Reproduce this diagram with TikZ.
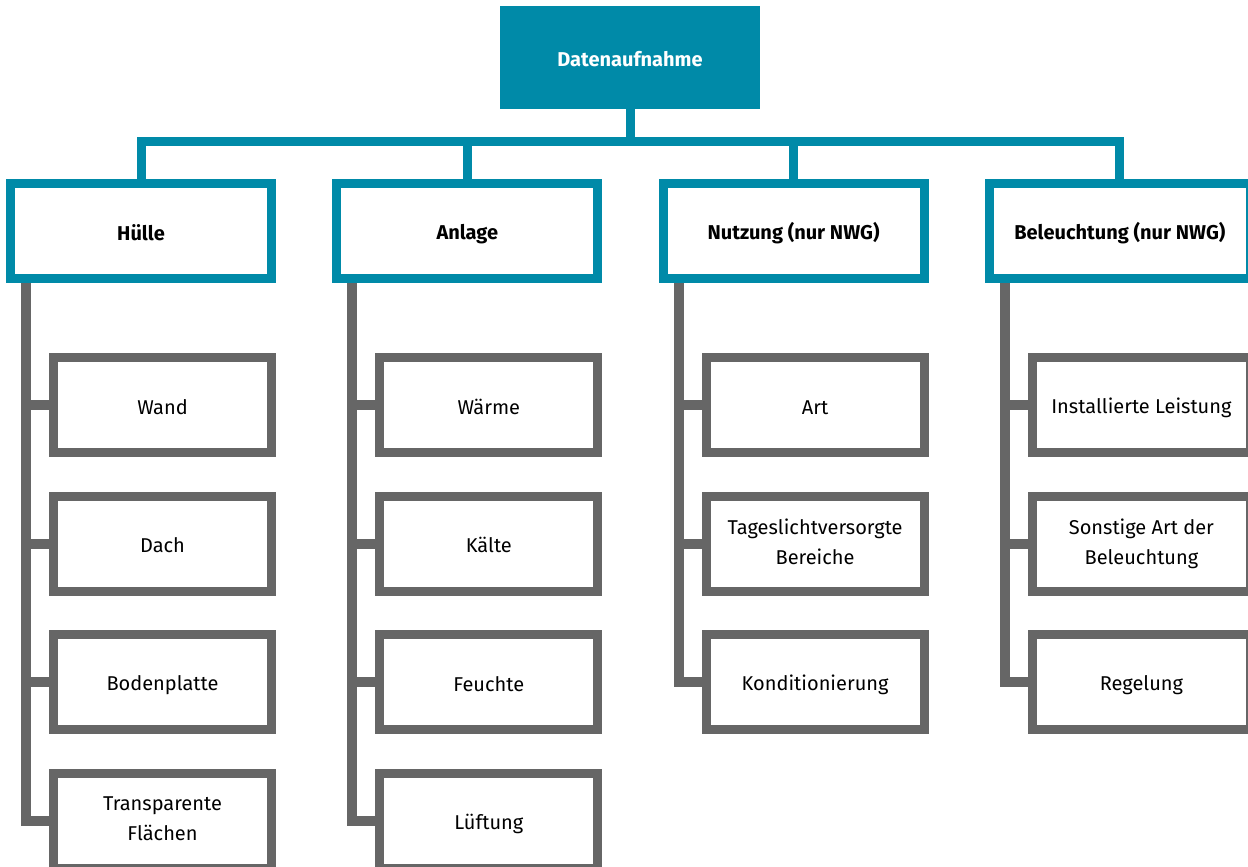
\documentclass[tikz,border=0pt]{standalone}
\usepackage{fontspec}
\setmainfont{Fira Sans}
\usetikzlibrary{%
	positioning
}
\definecolor{dablue}{HTML}{008AA8}
\definecolor{dagray}{HTML}{666666}

\begin{document}
\begin{tikzpicture}[
		lines/.style={execute at begin node={\rule{0pt}{22pt}},execute at end node={\rule[-4pt]{0pt}{4pt}}},
		SRoot/.style={lines,fill=dablue,text=white,font=\fontsize{20pt}{30pt}\selectfont\bfseries,minimum width=260pt,minimum height=103pt,inner sep=0pt,outer sep=0pt},
		SMain/.style={lines,draw=dablue,line width=9pt,fill=white,font=\fontsize{20pt}{30pt}\selectfont\bfseries,minimum width=261pt,minimum height=95pt,align=center,inner sep=0pt},
		SItem/.style={lines,draw=dagray,line width=9pt,fill=white,font=\fontsize{20pt}{30pt}\selectfont,minimum width=218pt,minimum height=95pt,align=center,inner sep=0pt},
		link/.style={draw=dablue,line width=9pt},
		spine/.style={draw=dagray,line width=10pt}
	]
	\useasboundingbox (0,0) rectangle (1248pt,-867pt);
	
	%Datenaufnahme
	\node (root) [SRoot] at (630pt,-57.5pt) {Datenaufnahme};
	\coordinate (bar) at ([yshift=-32.5pt]root.south);
	
	\node (huelle) [SMain, below left=70pt and 494pt of root.south west, anchor=north west] {Hülle};
	\node (anlage) [SMain, right=56.3pt of huelle] {Anlage};
	\node (nutzung) [SMain, right=56.3pt of anlage] {Nutzung (nur NWG)};
	\node (beleucht) [SMain, right=56.3pt of nutzung] {Beleuchtung (nur NWG)};
	
	\draw [link] (huelle.north) -- (huelle.north |- bar) -- (beleucht.north |- bar) -- (beleucht.north);
	\draw [link] (root.south) -- (bar);
	\draw [link] (anlage.north) -- (anlage.north |- bar);
	\draw [link] (nutzung.north) -- (nutzung.north |- bar);
	
	%Hülle
	\node (wand) [SItem, below=70pt of huelle.south east, anchor=north east] {Wand};
	\node (dach) [SItem, below=34.5pt of wand] {Dach};
	\node (boden) [SItem, below=34.5pt of dach] {Bodenplatte};
	\node (flaechen) [SItem, below=34.5pt of boden] {Transparente\\Flächen};
	\coordinate (sp-huelle) at ([xshift=20pt]huelle.south west);
	\draw [spine] (sp-huelle) |- (flaechen.west);
	\draw [spine] (sp-huelle |- wand.west) -- (wand.west);
	\draw [spine] (sp-huelle |- dach.west) -- (dach.west);
	\draw [spine] (sp-huelle |- boden.west) -- (boden.west);
	
	%Anlage
	\node (waerme) [SItem, below=70pt of anlage.south east, anchor=north east] {Wärme};
	\node (kaelte) [SItem, below=34.5pt of waerme] {Kälte};
	\node (feuchte) [SItem, below=34.5pt of kaelte] {Feuchte};
	\node (lueftung) [SItem, below=34.5pt of feuchte] {Lüftung};
	\coordinate (sp-anlage) at ([xshift=20pt]anlage.south west);
	\draw [spine] (sp-anlage) |- (lueftung.west);
	\draw [spine] (sp-anlage |- waerme.west) -- (waerme.west);
	\draw [spine] (sp-anlage |- kaelte.west) -- (kaelte.west);
	\draw [spine] (sp-anlage |- feuchte.west) -- (feuchte.west);
	
	%Nutzung
	\node (art) [SItem, below=70pt of nutzung.south east, anchor=north east] {Art};
	\node (tageslicht) [SItem, below=34.5pt of art] {Tageslichtversorgte\\Bereiche};
	\node (kond) [SItem, below=34.5pt of tageslicht] {Konditionierung};
	\coordinate (sp-nutzung) at ([xshift=20pt]nutzung.south west);
	\draw [spine] (sp-nutzung) |- (kond.west);
	\draw [spine] (sp-nutzung |- art.west) -- (art.west);
	\draw [spine] (sp-nutzung |- tageslicht.west) -- (tageslicht.west);
	
	%Beleuchtung
	\node (leistung) [SItem, below=70pt of beleucht.south east, anchor=north east] {Installierte Leistung};
	\node (sonstige) [SItem, below=34.5pt of leistung] {Sonstige Art der\\Beleuchtung};
	\node (regelung) [SItem, below=34.5pt of sonstige] {Regelung};
	\coordinate (sp-beleucht) at ([xshift=20pt]beleucht.south west);
	\draw [spine] (sp-beleucht) |- (regelung.west);
	\draw [spine] (sp-beleucht |- leistung.west) -- (leistung.west);
	\draw [spine] (sp-beleucht |- sonstige.west) -- (sonstige.west);
	
\end{tikzpicture}
\end{document}
